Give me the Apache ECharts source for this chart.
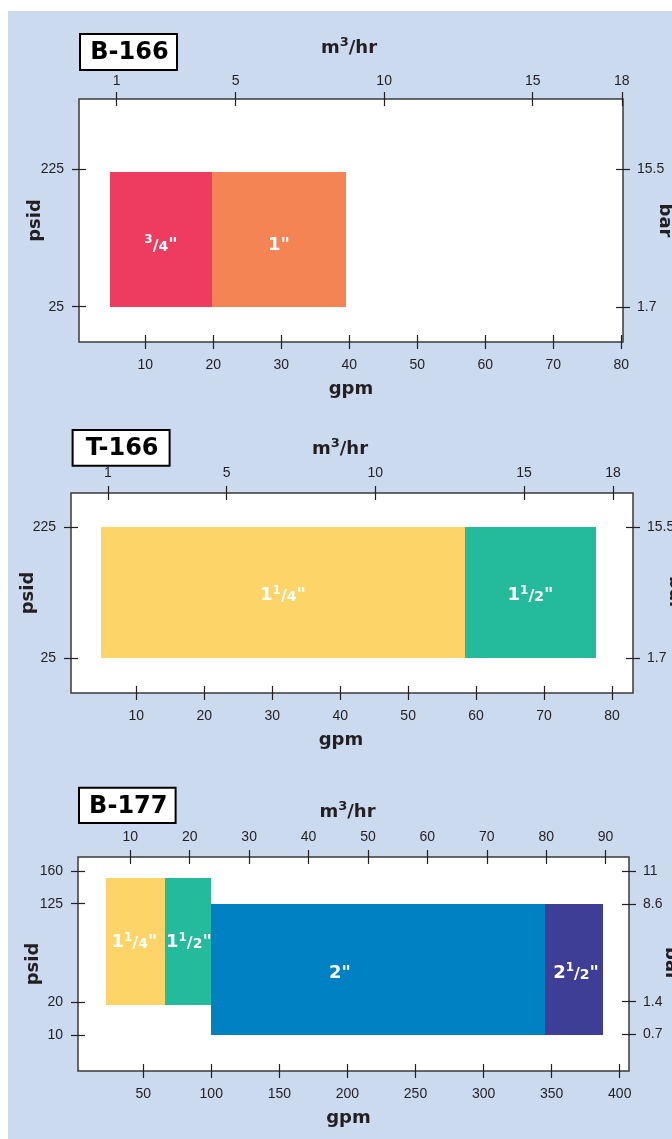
<!DOCTYPE html>
<html>
<head>
<meta charset="utf-8">
<title>Flow ranges</title>
<script src="https://cdn.jsdelivr.net/npm/echarts@6.0.0/dist/echarts.min.js"></script>
<style>
html, body { margin: 0; padding: 0; background: #ffffff; }
#chart { width: 672px; height: 1139px; }
</style>
</head>
<body>
<div id="chart"></div>
<script>
// ---------------- data ----------------
const PSI_PER_BAR = 14.5038;

// B-166
const b166Sizes = ['3/4"', '1"'];
const b166Gpm = [[4.8, 19.8], [19.8, 39.5]];
const b166Psid = [[25, 221], [25, 221]];
const b166GpmTicks = [10, 20, 30, 40, 50, 60, 70, 80];
const b166M3Ticks = [1, 5, 10, 15, 18];
const b166PsidTicks = [25, 225];
const b166BarTicks = [1.7, 15.5];

// T-166
const t166Sizes = ['1 1/4"', '1 1/2"'];
const t166Gpm = [[4.85, 58.3], [58.3, 77.7]];
const t166Psid = [[25, 225], [25, 225]];
const t166GpmTicks = [10, 20, 30, 40, 50, 60, 70, 80];
const t166M3Ticks = [1, 5, 10, 15, 18];
const t166PsidTicks = [25, 225];
const t166BarTicks = [1.7, 15.5];

// B-177
const b177Sizes = ['1 1/4"', '1 1/2"', '2"', '2 1/2"'];
const b177Gpm = [[22.6, 66], [66, 99.7], [99.7, 345.2], [345.2, 387.7]];
const b177Psid = [[19, 152.5], [19, 152.5], [10, 125], [10, 125]];
const b177GpmTicks = [50, 100, 150, 200, 250, 300, 350, 400];
const b177M3Ticks = [10, 20, 30, 40, 50, 60, 70, 80, 90];
const b177PsidTicks = [10, 20, 125, 160];
const b177BarTicks = [0.7, 1.4, 8.6, 11];

// ---------------- styles ----------------
const INK = '#231f20';
const FRAME = '#3b3b3b';
const PANEL_BG = '#cbdaef';
const TICK_FONT = '"Liberation Sans", Arial, sans-serif';
const BOLD_FONT = '"DejaVu Sans", "Liberation Sans", sans-serif';

const STYLE = {
  b166: { colors: ['#ee3b60', '#f58455'], labelShift: [[0, 5], [0, 5]] },
  t166: { colors: ['#fdd468', '#23bb9c'], labelShift: [[0, 2], [0, 2]] },
  b177: { colors: ['#fdd468', '#23bb9c', '#0081c4', '#3f3e96'], labelShift: [[-1, 0], [1, 0], [-38, 3], [2, 3]] }
};

// ---------------- layout ----------------
const LAYOUT = {
  b166: {
    grid: { left: 79, top: 99, width: 544, height: 243 },
    gpm: [0.25, 80.24], m3: [-0.27, 18.04], psid: [-26.4, 327.3],
    title: { x: 80, y: 34, w: 97, h: 36 },
    m3Gap: 32, m3Shift: 2, m3Margin: 4, gpmGap: 31, gpmShift: 0, psidGap: 28, barGap: 26
  },
  t166: {
    grid: { left: 71, top: 493, width: 562, height: 200 },
    gpm: [0.39, 83.09], m3: [-0.24, 18.67], psid: [-28.0, 277.4],
    title: { x: 72.6, y: 430, w: 97, h: 35.7 },
    m3Gap: 25, m3Shift: 12, m3Margin: 6, gpmGap: 31, gpmShift: 11, psidGap: 27, barGap: 26
  },
  b177: {
    frame: { left: 78, top: 857, width: 551, height: 214 },
    upper: { left: 78, top: 857, width: 551, height: 145 },
    lower: { left: 78, top: 1002, width: 551, height: 69 },
    gpm: [2.13, 406.8], m3: [1.19, 93.94], psidUpper: [20, 174.96], psidLower: [-0.91, 20],
    title: { x: 79, y: 787.7, w: 96.6, h: 35.3 },
    m3Gap: 26, m3Shift: 6, m3Margin: 6, gpmGap: 31, gpmShift: 5, psidGap: 35.5, barGap: 33
  }
};

// ---------------- helpers ----------------
const chart = echarts.init(document.getElementById('chart'), null, { renderer: 'canvas' });

const grids = [], xAxes = [], yAxes = [], series = [];

function addGrid(rect, show) {
  grids.push(Object.assign({
    show: show, backgroundColor: '#ffffff', borderColor: FRAME, borderWidth: 1.5,
    containLabel: false, outerBoundsMode: 'none'
  }, rect));
  return grids.length - 1;
}

function nameStyle(shift, lineHeight) {
  const s = {
    fontFamily: BOLD_FONT, fontWeight: 'bold', fontSize: 18, color: INK,
    padding: [0, 2 * (shift || 0), 0, 0],
    rich: { sup: { fontFamily: BOLD_FONT, fontWeight: 'bold', fontSize: 13, color: INK, verticalAlign: 'top', lineHeight: 13 } }
  };
  if (lineHeight) s.lineHeight = lineHeight;
  return s;
}

function tickAxis(extra, ticks, margin) {
  return Object.assign({
    type: 'value',
    offset: 7,
    axisLine: { show: false, onZero: false },
    axisTick: { show: true, inside: true, length: 14, lineStyle: { color: INK, width: 1.2 }, customValues: ticks },
    axisLabel: { show: true, customValues: ticks, margin: margin, color: INK, fontFamily: TICK_FONT, fontSize: 14 },
    splitLine: { show: false },
    nameMoveOverlap: false
  }, extra);
}

function hiddenAxis(extra) {
  return Object.assign({ type: 'value', show: false, axisLine: { onZero: false }, splitLine: { show: false } }, extra);
}

function nameOnlyAxis(extra) {
  return Object.assign({
    type: 'value', min: 0, max: 1,
    axisLine: { show: false, onZero: false }, axisTick: { show: false }, axisLabel: { show: false }, splitLine: { show: false },
    nameLocation: 'middle', nameMoveOverlap: false
  }, extra);
}

function rectData(gpm, psid) {
  return gpm.map((g, i) => [g[0], g[1], psid[i][0], psid[i][1], i]);
}

function renderRects(colors) {
  return function (params, api) {
    const idx = api.value(4);
    const a = api.coord([api.value(0), api.value(3)]);
    const b = api.coord([api.value(1), api.value(2)]);
    const cs = params.coordSys;
    const shape = echarts.graphic.clipRectByRect(
      { x: Math.round(a[0]), y: Math.round(a[1]), width: Math.round(b[0]) - Math.round(a[0]), height: Math.round(b[1]) - Math.round(a[1]) },
      { x: cs.x, y: cs.y, width: cs.width, height: cs.height }
    );
    if (!shape) return null;
    return { type: 'rect', shape: shape, style: { fill: colors[idx] } };
  };
}

function inRange(v, lo, hi, closedHi) { return v >= lo && (closedHi ? v <= hi : v < hi); }

// ---------------- panels 1 & 2 (single linear scale) ----------------
const PANELS = [];

function simplePanel(key, title, sizes, gpm, psid, gpmTicks, m3Ticks, psidTicks, barTicks) {
  const L = LAYOUT[key];
  const gi = addGrid(L.grid, true);
  const xi = xAxes.length;
  xAxes.push(tickAxis({
    gridIndex: gi, position: 'bottom', min: L.gpm[0], max: L.gpm[1],
    name: 'gpm', nameLocation: 'middle', nameGap: L.gpmGap, nameTextStyle: nameStyle(L.gpmShift)
  }, gpmTicks, 9));
  xAxes.push(tickAxis({
    gridIndex: gi, position: 'top', min: L.m3[0], max: L.m3[1],
    name: 'm{sup|3}/hr', nameLocation: 'middle', nameGap: L.m3Gap, nameTextStyle: nameStyle(L.m3Shift, 24)
  }, m3Ticks, L.m3Margin));
  const yi = yAxes.length;
  yAxes.push(tickAxis({
    gridIndex: gi, position: 'left', min: L.psid[0], max: L.psid[1],
    name: 'psid', nameLocation: 'middle', nameRotate: 90, nameGap: L.psidGap, nameTextStyle: nameStyle(0)
  }, psidTicks, 8));
  yAxes.push(tickAxis({
    gridIndex: gi, position: 'right', min: L.psid[0] / PSI_PER_BAR, max: L.psid[1] / PSI_PER_BAR,
    name: 'bar', nameLocation: 'middle', nameRotate: -90, nameGap: L.barGap, nameTextStyle: nameStyle(0)
  }, barTicks, 7));
  const si = series.length;
  series.push({
    type: 'custom', xAxisIndex: xi, yAxisIndex: yi, coordinateSystem: 'cartesian2d',
    renderItem: renderRects(STYLE[key].colors), data: rectData(gpm, psid), silent: true
  });
  PANELS.push({ key, title, sizes, gpm, psid, toPixel: (x, y) => chart.convertToPixel({ seriesIndex: si }, [x, y]) });
}

simplePanel('b166', 'B-166', b166Sizes, b166Gpm, b166Psid, b166GpmTicks, b166M3Ticks, b166PsidTicks, b166BarTicks);
simplePanel('t166', 'T-166', t166Sizes, t166Gpm, t166Psid, t166GpmTicks, t166M3Ticks, t166PsidTicks, t166BarTicks);

// ---------------- panel 3 (schematic psid scale, two linear segments) ----------------
(function () {
  const key = 'b177';
  const L = LAYOUT[key];
  const gf = addGrid(L.frame, true);
  const gu = addGrid(L.upper, false);
  const gl = addGrid(L.lower, false);

  xAxes.push(tickAxis({
    gridIndex: gf, position: 'bottom', min: L.gpm[0], max: L.gpm[1],
    name: 'gpm', nameLocation: 'middle', nameGap: L.gpmGap, nameTextStyle: nameStyle(L.gpmShift)
  }, b177GpmTicks, 9));
  xAxes.push(tickAxis({
    gridIndex: gf, position: 'top', min: L.m3[0], max: L.m3[1],
    name: 'm{sup|3}/hr', nameLocation: 'middle', nameGap: L.m3Gap, nameTextStyle: nameStyle(L.m3Shift, 24)
  }, b177M3Ticks, L.m3Margin));
  const xu = xAxes.length; xAxes.push(hiddenAxis({ gridIndex: gu, min: L.gpm[0], max: L.gpm[1] }));
  const xl = xAxes.length; xAxes.push(hiddenAxis({ gridIndex: gl, min: L.gpm[0], max: L.gpm[1] }));

  yAxes.push(nameOnlyAxis({ gridIndex: gf, position: 'left', name: 'psid', nameRotate: 90, nameGap: L.psidGap, nameTextStyle: nameStyle(0) }));
  yAxes.push(nameOnlyAxis({ gridIndex: gf, position: 'right', name: 'bar', nameRotate: -90, nameGap: L.barGap, nameTextStyle: nameStyle(0) }));

  const up = L.psidUpper, lo = L.psidLower;
  const yu = yAxes.length;
  yAxes.push(tickAxis({ gridIndex: gu, position: 'left', min: up[0], max: up[1] },
    b177PsidTicks.filter(v => inRange(v, up[0], up[1], true)), 8));
  yAxes.push(tickAxis({ gridIndex: gu, position: 'right', min: up[0] / PSI_PER_BAR, max: up[1] / PSI_PER_BAR },
    b177BarTicks.filter(v => inRange(v * PSI_PER_BAR, up[0], up[1], true)), 7));
  const yl = yAxes.length;
  yAxes.push(tickAxis({ gridIndex: gl, position: 'left', min: lo[0], max: lo[1] },
    b177PsidTicks.filter(v => inRange(v, lo[0], lo[1], false)), 8));
  yAxes.push(tickAxis({ gridIndex: gl, position: 'right', min: lo[0] / PSI_PER_BAR, max: lo[1] / PSI_PER_BAR },
    b177BarTicks.filter(v => inRange(v * PSI_PER_BAR, lo[0], lo[1], false)), 7));

  const data = rectData(b177Gpm, b177Psid);
  const su = series.length;
  series.push({ type: 'custom', xAxisIndex: xu, yAxisIndex: yu, coordinateSystem: 'cartesian2d',
    renderItem: renderRects(STYLE[key].colors), data: data, silent: true });
  const sl = series.length;
  series.push({ type: 'custom', xAxisIndex: xl, yAxisIndex: yl, coordinateSystem: 'cartesian2d',
    renderItem: renderRects(STYLE[key].colors), data: data, silent: true });

  PANELS.push({
    key, title: 'B-177', sizes: b177Sizes, gpm: b177Gpm, psid: b177Psid,
    toPixel: (x, y) => chart.convertToPixel({ seriesIndex: y >= up[0] ? su : sl }, [x, y])
  });
})();

chart.setOption({
  animation: false,
  backgroundColor: PANEL_BG,
  grid: grids,
  xAxis: xAxes,
  yAxis: yAxes,
  series: series
});

// ---------------- overlay: margins, title boxes, size labels ----------------
const LABEL_RICH = {
  big: { fontFamily: BOLD_FONT, fontWeight: 'bold', fontSize: 18, lineHeight: 20, fill: '#ffffff', verticalAlign: 'bottom' },
  sup: { fontFamily: BOLD_FONT, fontWeight: 'bold', fontSize: 12, lineHeight: 12, fill: '#ffffff', verticalAlign: 'top' },
  sl: { fontFamily: BOLD_FONT, fontWeight: 'bold', fontSize: 16, lineHeight: 18, fill: '#ffffff', verticalAlign: 'bottom' },
  sub: { fontFamily: BOLD_FONT, fontWeight: 'bold', fontSize: 14, lineHeight: 16, fill: '#ffffff', verticalAlign: 'bottom' }
};

function richSize(s) {
  const m = s.match(/^(\d+)?\s?(?:(\d+)\/(\d+))?"$/);
  let out = '';
  if (m[1]) out += '{big|' + m[1] + '}';
  if (m[2]) out += '{sup|' + m[2] + '}{sl|/}{sub|' + m[3] + '}';
  out += '{big|"}';
  return out;
}

const overlay = [
  { type: 'rect', shape: { x: 0, y: 0, width: 672, height: 11 }, style: { fill: '#ffffff' }, silent: true },
  { type: 'rect', shape: { x: 0, y: 0, width: 8, height: 1139 }, style: { fill: '#ffffff' }, silent: true }
];

PANELS.forEach(p => {
  const T = LAYOUT[p.key].title;
  overlay.push({ type: 'rect', shape: { x: T.x, y: T.y, width: T.w, height: T.h },
    style: { fill: '#ffffff', stroke: '#000000', lineWidth: 2 }, silent: true });
  overlay.push({ type: 'text', x: T.x + T.w / 2 + 1, y: T.y + T.h / 2 + 1,
    style: { text: p.title, fontFamily: BOLD_FONT, fontWeight: 'bold', fontSize: 24, fill: '#000000',
      align: 'center', verticalAlign: 'middle', textAlign: 'center', textVerticalAlign: 'middle' }, silent: true });
  p.sizes.forEach((s, i) => {
    const cx = (p.gpm[i][0] + p.gpm[i][1]) / 2;
    const top = p.toPixel(cx, p.psid[i][1]);
    const bot = p.toPixel(cx, p.psid[i][0]);
    const sh = STYLE[p.key].labelShift[i];
    overlay.push({ type: 'text', x: top[0] + sh[0], y: (top[1] + bot[1]) / 2 + sh[1], z: 50,
      style: { text: richSize(s), rich: LABEL_RICH, fill: '#ffffff',
        align: 'center', verticalAlign: 'middle', textAlign: 'center', textVerticalAlign: 'middle' }, silent: true });
  });
});

chart.setOption({ graphic: { elements: overlay } });
</script>
</body>
</html>
